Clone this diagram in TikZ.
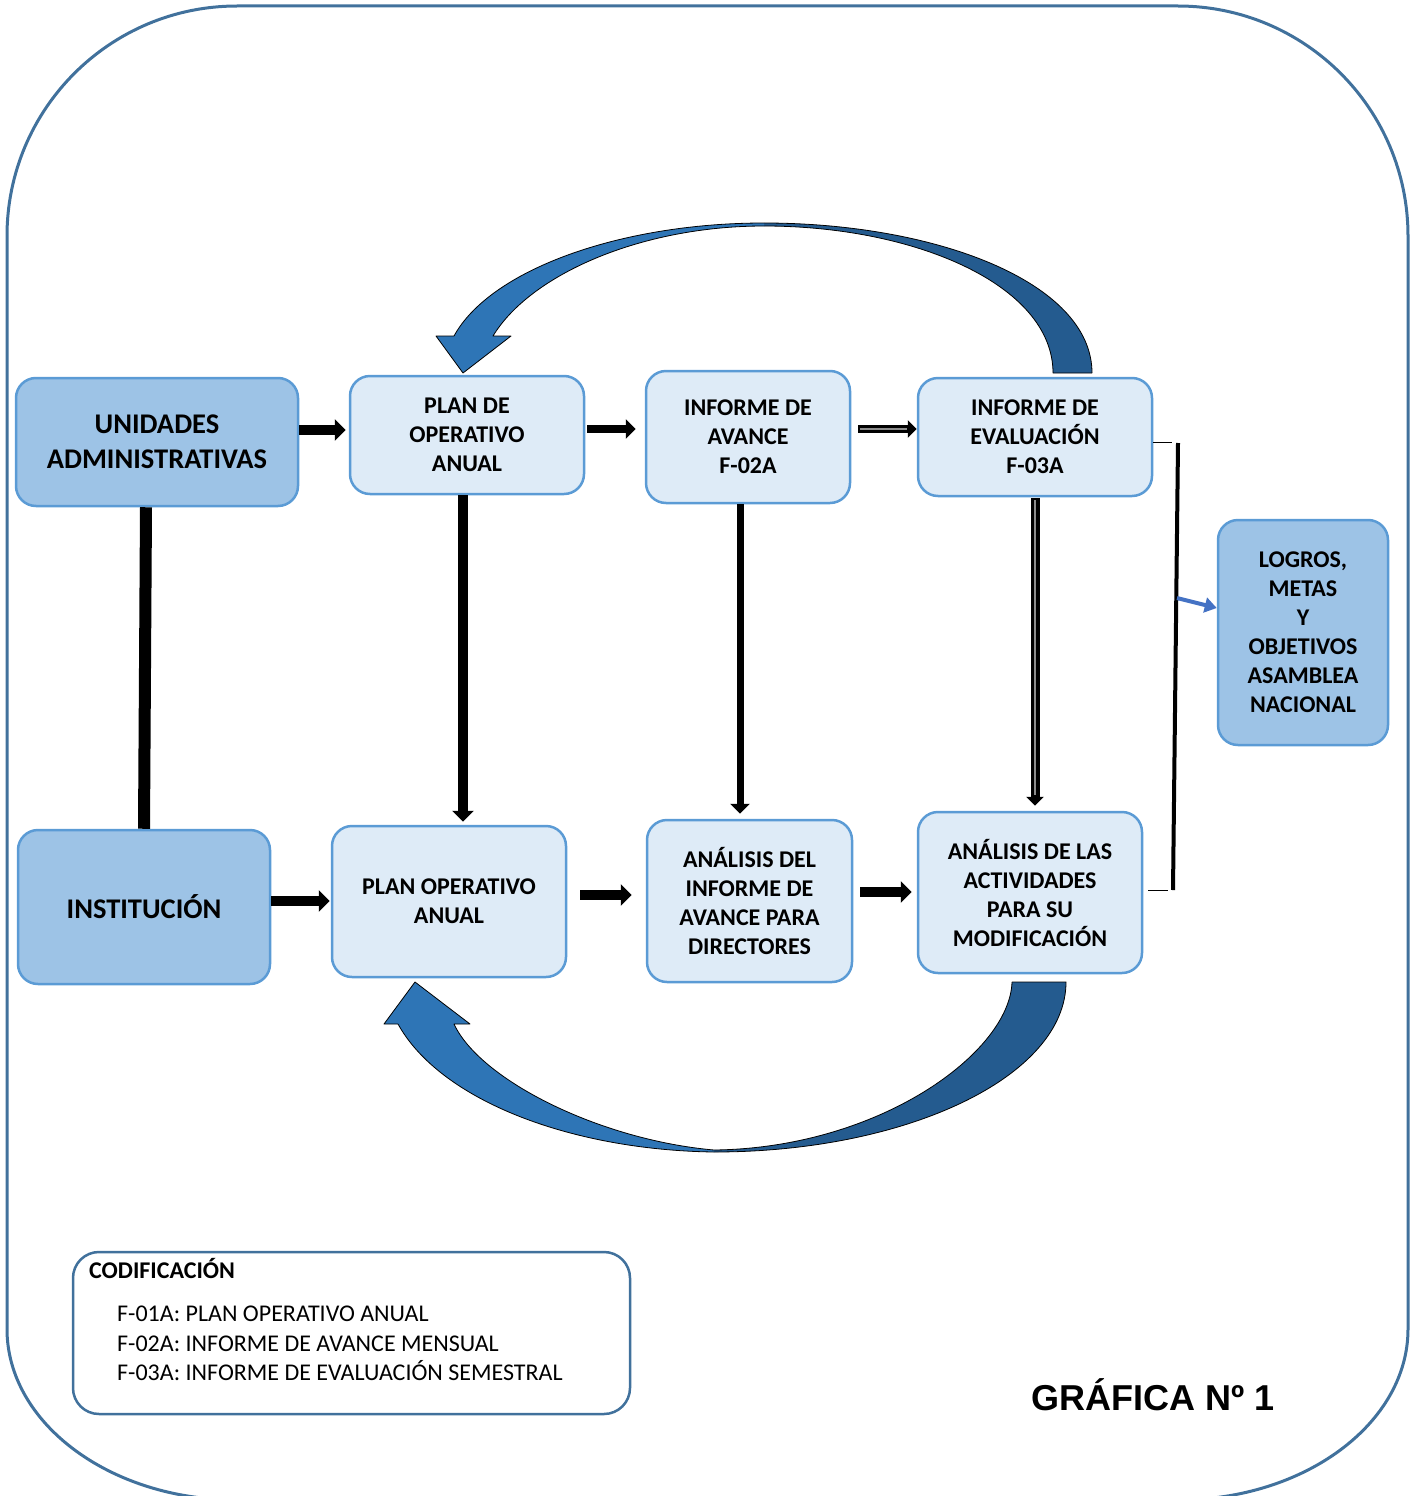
\documentclass[tikz,border=0pt]{standalone}
\usepackage{fontspec}
\setmainfont{Carlito}
\newfontfamily\arialfont{Liberation Sans}
\usetikzlibrary{arrows.meta,calc}
\definecolor{dkfill}{HTML}{9DC3E6}
\definecolor{ltfill}{HTML}{DEEBF7}
\definecolor{bord}{HTML}{5B9BD5}
\definecolor{framec}{HTML}{41719C}
\definecolor{arrlight}{HTML}{2E75B6}
\definecolor{arrdark}{HTML}{245B8F}
\definecolor{bluearr}{HTML}{4472C4}
\begin{document}
\begin{tikzpicture}[x=1pt,y=-1pt,
  box/.style={draw=bord, line width=2.5pt, rounded corners=20pt, align=center,
    font=\bfseries\fontsize{24}{29}\selectfont, inner sep=0pt},
  darkbox/.style={box, fill=dkfill, font=\bfseries\fontsize{28.5}{35}\selectfont},
  lightbox/.style={box, fill=ltfill},
  bigarrow/.style={line width=9.5pt, -{Triangle[length=11pt,width=21pt]}},
  midarrow/.style={line width=8pt, -{Triangle[length=10pt,width=19pt]}},
  dblarrow/.style={line width=7.5pt, -{Triangle[length=9pt,width=17pt]}},
  dblinner/.style={line width=2.5pt, draw=black!45},
  curvearrow/.style={draw=black, line width=0.8pt, line join=round},
  codtext/.style={anchor=base west, font=\fontsize{24}{29}\selectfont, inner sep=0pt}
]
\useasboundingbox (0,0) rectangle (1419,1496);
% outer frame
\draw[framec, line width=3pt] (7,236) .. controls (7,109) and (110,6) .. (237,6)
  -- (1178,6) .. controls (1305,6) and (1408,109) .. (1408,236)
  -- (1408,1329) .. controls (1408,1423) and (1305,1500) .. (1178,1500)
  -- (237,1500) .. controls (110,1500) and (7,1423) .. (7,1329) -- cycle;

% nodes
\node[darkbox, minimum width=282pt, minimum height=128pt] (ua) at (157,442) {UNIDADES\\ADMINISTRATIVAS};
\node[lightbox, minimum width=234pt, minimum height=118pt] (poa1) at (467,435) {PLAN DE\\OPERATIVO\\ANUAL};
\node[lightbox, minimum width=204pt, minimum height=132pt] (ia) at (748,437) {INFORME DE\\AVANCE\\F-02A};
\node[lightbox, minimum width=234pt, minimum height=118pt] (ie) at (1035,437) {INFORME DE\\EVALUACIÓN\\F-03A};
\node[darkbox, font=\bfseries\fontsize{24}{29}\selectfont, minimum width=170pt, minimum height=225pt] (logros) at (1303,632.5) {LOGROS,\\METAS\\Y\\OBJETIVOS\\ASAMBLEA\\NACIONAL};
\node[darkbox, minimum width=252pt, minimum height=154pt] (inst) at (144,907) {INSTITUCIÓN};
\node[lightbox, minimum width=234pt, minimum height=151pt] (poa2) at (449,901.5) {PLAN OPERATIVO\\ANUAL};
\node[lightbox, minimum width=205pt, minimum height=162pt] (an1) at (749.5,901) {ANÁLISIS DEL\\INFORME DE\\AVANCE PARA\\DIRECTORES};
\node[lightbox, minimum width=224pt, minimum height=161pt] (an2) at (1030,892.5) {ANÁLISIS DE LAS\\ACTIVIDADES\\PARA SU\\MODIFICACIÓN};

% codification box
\node[draw=framec, line width=2.5pt, rounded corners=26pt, minimum width=557pt, minimum height=162pt, inner sep=0pt] (cod) at (351.5,1333) {};
\node[codtext, font=\bfseries\fontsize{24}{29}\selectfont] (codt) at (89,1278) {CODIFICACIÓN};
\node[codtext] (c1) at (117,1321) {F-01A: PLAN OPERATIVO ANUAL};
\node[codtext] (c2) at (117,1351) {F-02A: INFORME DE AVANCE MENSUAL};
\node[codtext] (c3) at (117,1380) {F-03A: INFORME DE EVALUACIÓN SEMESTRAL};

\node[anchor=base, inner sep=0pt, font=\arialfont\bfseries\fontsize{36}{40}\selectfont] (graf) at (1153,1410) {GRÁFICA Nº 1};

% straight arrows top row
\draw[bigarrow, shorten >=3pt] ([yshift=12pt]ua.east) -- ([yshift=12pt]ua.east -| poa1.west);
\draw[midarrow, shorten <=2pt, shorten >=9pt] ([yshift=6pt]poa1.east) -- ([yshift=6pt]poa1.east -| ia.west);
\draw[dblarrow, shorten <=7pt] ([yshift=8pt]ia.east) -- ([yshift=8pt]ia.east -| ie.west);
\draw[dblinner, shorten <=8.5pt, shorten >=10pt] ([yshift=8pt]ia.east) -- ([yshift=8pt]ia.east -| ie.west);

% vertical arrows
\draw[bigarrow, shorten >=3pt] ([xshift=-4pt]poa1.south) -- ([xshift=-4pt]poa1.south |- poa2.north);
\draw[midarrow, line width=7pt, shorten >=5pt] ([xshift=-8pt]ia.south) -- ([xshift=-8pt]ia.south |- an1.north);
\draw[dblarrow, line width=9pt, shorten <=1pt, shorten >=5pt] (ie.south) -- (ie.south |- an2.north);
\draw[dblinner, shorten <=3pt, shorten >=16pt] (ie.south) -- (ie.south |- an2.north);

% connection line
\draw[line width=12pt] ([xshift=-11pt]ua.south) -- (inst.north);

% bottom row arrows
\draw[bigarrow, shorten >=1pt] ([yshift=6pt]inst.east) -- ([yshift=6pt]inst.east -| poa2.west);
\draw[bigarrow, shorten <=13pt, shorten >=14pt] ([yshift=6.5pt]poa2.east) -- ([yshift=6.5pt]poa2.east -| an1.west);
\draw[bigarrow, shorten <=7pt, shorten >=5pt] ([yshift=9pt]an1.east) -- ([yshift=9pt]an1.east -| an2.west);

% bracket
\coordinate (b2) at (1172,442);
\coordinate (b3) at (1178,443);
\coordinate (b4) at (1173,890);
\coordinate (b6) at (1168,890);
\coordinate (bm) at (1177,598);
\draw[line width=1pt] (ie.east |- b2) -- (b2);
\draw[line width=1pt] ([xshift=5pt]an2.east |- b6) -- (b6);
\draw[line width=4pt] (b3) -- (b4);
\draw[bluearr, line width=4pt, -{Triangle[length=12pt,width=15pt]}] (bm) -- ([yshift=24.5pt]logros.west);

% top curved arrow
\fill[arrdark] (1092,373) .. controls (1092,282) and (935,223) .. (764,223)
  -- (764,226) .. controls (915,226) and (1053,285) .. (1053,373) -- cycle;
\draw[curvearrow] (1092,373) .. controls (1092,282) and (935,223) .. (764,223);
\draw[curvearrow] (764,226) .. controls (915,226) and (1053,285) .. (1053,373) -- (1092,373);
\fill[arrlight] (764,223) .. controls (620,223) and (490,270) .. (454,336)
  -- (436,336) -- (463,373) -- (511,336) -- (493,336)
  .. controls (530,275) and (640,226) .. (764,226) -- cycle;
\draw[curvearrow] (764,223) .. controls (620,223) and (490,270) .. (454,336)
  -- (436,336) -- (463,373) -- (511,336) -- (493,336)
  .. controls (530,275) and (640,226) .. (764,226);

% bottom curved arrow
\fill[arrdark] (1066,982) .. controls (1066,1076) and (908,1152) .. (714,1152)
  -- (714,1150) .. controls (880,1148) and (1010,1052) .. (1012,982) -- cycle;
\draw[curvearrow] (1012,982) -- (1066,982) .. controls (1066,1076) and (908,1152) .. (714,1152);
\draw[curvearrow] (714,1150) .. controls (880,1148) and (1010,1052) .. (1012,982);
\fill[arrlight] (714,1152) .. controls (570,1150) and (440,1100) .. (398,1024)
  -- (384,1024) -- (415,982) -- (470,1024) -- (454,1024)
  .. controls (480,1080) and (600,1140) .. (714,1150) -- cycle;
\draw[curvearrow] (714,1152) .. controls (570,1150) and (440,1100) .. (398,1024)
  -- (384,1024) -- (415,982) -- (470,1024) -- (454,1024)
  .. controls (480,1080) and (600,1140) .. (714,1150);
\end{tikzpicture}
\end{document}
